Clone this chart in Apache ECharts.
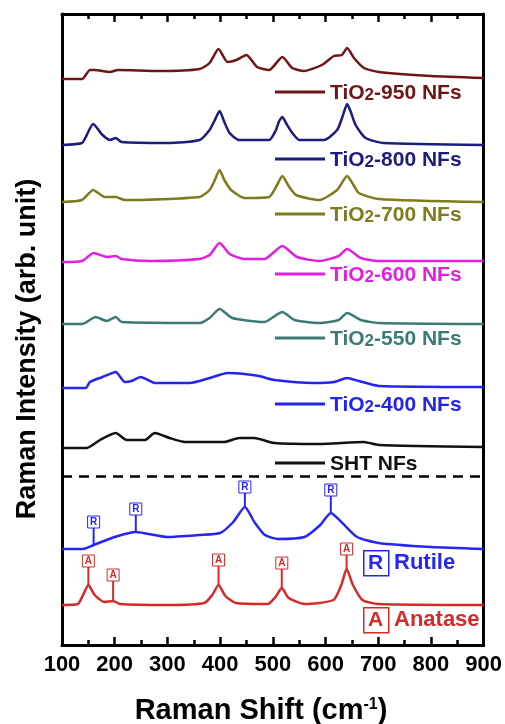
<!DOCTYPE html>
<html>
<head>
<meta charset="utf-8">
<script src="https://cdn.jsdelivr.net/npm/echarts@6/dist/echarts.min.js"></script>
<style>
  html, body { margin: 0; padding: 0; background: #fff; }
  #chart { width: 505px; height: 724px; }
</style>
</head>
<body>
<div id="chart"></div>
<script>
// stacked spectra, [Raman shift, intensity incl. offset] (arb. unit)
const tio2_950 = [[100,566],[138,566],[153,575],[162,575],[191,573],[206,575],[285,574],[361,576],[380,582],[397,596],[414,583],[431,585],[450,590],[470,578],[493,575],[518,588],[537,577],[559,574],[593,580],[616,589],[631,590],[641,597],[654,587],[673,577],[701,573],[800,569],[900,567]]
const tio2_800 = [[100,500],[138,502],[147,510],[159,521],[177,510],[191,505],[202,507],[213,503],[300,502],[361,505],[380,515],[390,525],[399,534],[408,523],[418,512],[436,505],[493,505],[506,515],[512,524],[518,528],[526,521],[537,512],[550,505],[597,505],[622,515],[632,528],[641,541],[648,533],[657,520],[676,507],[710,502],[900,500]]
const tio2_700 = [[100,443],[138,445],[159,455],[181,448],[202,448],[219,445],[361,448],[380,455],[390,465],[399,475],[408,465],[421,455],[446,447],[493,448],[508,460],[518,469],[530,459],[544,450],[588,445],[622,455],[641,469],[652,461],[663,452],[701,446],[900,443]]
const tio2_600 = [[100,383],[138,384],[160,392],[185,388],[202,389],[213,386],[267,384],[361,386],[380,390],[399,402],[418,391],[446,386],[484,386],[518,399],[546,388],[588,384],[625,389],[641,396],[667,387],[701,384],[900,384]]
const tio2_550 = [[100,321],[138,321],[164,328],[185,324],[202,328],[213,323],[361,322],[380,327],[399,336],[423,327],[484,323],[518,333],[541,325],[588,322],[625,325],[641,332],[667,325],[701,322],[900,321]]
const tio2_400 = [[100,257],[145,257],[153,263],[177,268],[202,273],[219,263],[232,264],[249,268],[263,265],[276,262],[342,262],[380,267],[414,272],[446,271],[474,269],[503,265],[578,262],[616,263],[641,267],[663,264],[701,259],[900,258]]
const sht = [[100,197],[147,197],[172,205],[202,212],[223,205],[257,205],[276,212],[304,207],[333,203],[408,203],[436,207],[465,207],[503,202],[588,201],[673,203],[701,200],[900,198]]
const rutile = [[100,96],[140,96],[160,100],[200,108],[240,113],[300,108],[360,110],[400,112],[425,123],[447,138],[465,123],[485,110],[510,106],[560,108],[590,120],[610,132],[630,123],[660,108],[700,102],[800,98],[900,96]]
const anatase = [[100,40],[130,41],[140,50],[150,60],[162,50],[180,43],[197,44],[210,41],[300,40],[370,42],[385,50],[397,60],[410,49],[430,42],[490,41],[505,48],[517,57],[530,47],[560,41],[615,45],[630,60],[640,76],[652,60],[670,45],[700,41],[900,40]]

// reference peaks: [shift, curve value, label value]
const rutilePeaks = [[160,100,123],[240,113,136],[447,138,158],[610,132,155]]
const anatasePeaks = [[150,60,84],[197,44,70],[397,60,85],[517,57,82],[640,76,96]]

const separatorLevel = 169
const xTicks = { min: 100, max: 900, interval: 100 }

const names = ['TiO2-950 NFs', 'TiO2-800 NFs', 'TiO2-700 NFs', 'TiO2-600 NFs', 'TiO2-550 NFs', 'TiO2-400 NFs', 'SHT NFs']
const spectra = [tio2_950, tio2_800, tio2_700, tio2_600, tio2_550, tio2_400, sht]
const colors = ['#6e1616', '#1c1c7c', '#7c7c1c', '#e21ee2', '#3c7a75', '#2424f0', '#111111']
const legendLineY = [91, 158, 213, 273, 337, 403, 462]

const RUTILE_COLOR = '#2626f2'
const ANATASE_COLOR = '#d42a2a'
const FONT = 'Liberation Sans, Arial, sans-serif'

const chart = echarts.init(document.getElementById('chart'))

function peakSeries(data, letter, color) {
  return {
    type: 'custom',
    data: data,
    silent: true,
    z: 5,
    renderItem(params, api) {
      const p = api.coord([api.value(0), api.value(1)])
      const b = api.coord([api.value(0), api.value(2)])
      const w = 12
      const h = 12
      return {
        type: 'group',
        children: [
          { type: 'line', shape: { x1: p[0], y1: p[1], x2: b[0], y2: b[1] + h / 2 }, style: { stroke: color, lineWidth: 2 } },
          { type: 'rect', shape: { x: b[0] - w / 2, y: b[1] - h / 2, width: w, height: h }, style: { fill: '#fff', stroke: color, lineWidth: 1 } },
          { type: 'text', style: { text: letter, x: b[0], y: b[1] + 0.5, align: 'center', verticalAlign: 'middle', font: 'bold 10px ' + FONT, fill: color } }
        ]
      }
    }
  }
}

const series = spectra.map((d, i) => ({
  name: names[i],
  type: 'line',
  data: d,
  smooth: 0.2,
  showSymbol: false,
  color: colors[i],
  lineStyle: { width: 2.5, color: colors[i] }
}))

series.push({
  name: 'Rutile',
  type: 'line',
  data: rutile,
  smooth: 0.2,
  showSymbol: false,
  lineStyle: { width: 2.5, color: RUTILE_COLOR },
  markLine: {
    silent: true,
    symbol: 'none',
    label: { show: false },
    lineStyle: { type: [10, 7], width: 2.5, color: '#000' },
    data: [{ yAxis: separatorLevel }]
  }
})
series.push({
  name: 'Anatase',
  type: 'line',
  data: anatase,
  smooth: 0.2,
  showSymbol: false,
  lineStyle: { width: 2.5, color: ANATASE_COLOR }
})
series.push(peakSeries(rutilePeaks, 'R', RUTILE_COLOR))
series.push(peakSeries(anatasePeaks, 'A', ANATASE_COLOR))

const legends = names.map((n, i) => ({
  data: [n],
  left: 275,
  top: legendLineY[i] - 8,
  padding: 0,
  icon: 'rect',
  itemWidth: 50,
  itemHeight: 3,
  itemGap: 0,
  selectedMode: false,
  formatter: name => name.replace(/^TiO2(.*)$/, '{a|TiO}{s|2}{a|$1}').replace(/^SHT(.*)$/, '{a|SHT$1}'),
  textStyle: {
    color: colors[i],
    padding: [0, 0, 0, 0],
    rich: {
      a: { color: colors[i], fontSize: 21, fontWeight: 'bold', fontFamily: FONT, verticalAlign: 'bottom', lineHeight: 24 },
      s: { color: colors[i], fontSize: 17, fontWeight: 'bold', fontFamily: FONT, verticalAlign: 'bottom', lineHeight: 24 }
    }
  }
}))

function boxLegend(letter, text, color, top) {
  return [
    { type: 'rect', left: 363, top: top, shape: { width: 25, height: 25 }, style: { fill: '#fff', stroke: color, lineWidth: 1.5 } },
    { type: 'text', x: 375.5, y: top + 13, style: { text: letter, fill: color, font: 'bold 21px ' + FONT, align: 'center', verticalAlign: 'middle' } },
    { type: 'text', x: 394, y: top + 13, style: { text: text, fill: color, font: 'bold 22px ' + FONT, verticalAlign: 'middle' } }
  ]
}

const axisCommon = {
  type: 'value',
  min: xTicks.min,
  max: xTicks.max,
  interval: xTicks.interval,
  axisLine: { show: true, onZero: false, lineStyle: { color: '#000', width: 3 } },
  axisTick: { show: true, inside: true, length: 8, lineStyle: { color: '#000', width: 2.5 } },
  minorTick: { show: true, splitNumber: 2, length: 5, lineStyle: { color: '#000', width: 2.5 } },
  splitLine: { show: false }
}

const titles = [
  {
    type: 'text', x: 28, y: 349, rotation: Math.PI / 2,
    style: { text: 'Raman Intensity (arb. unit)', fill: '#000', font: 'bold 27px ' + FONT, align: 'center', verticalAlign: 'middle' }
  },
  {
    type: 'text', x: 261, y: 711,
    style: {
      text: '{t|Raman Shift (cm}{u|-1}{t|)}', align: 'center', verticalAlign: 'middle',
      rich: {
        t: { fill: '#000', fontSize: 29, fontWeight: 'bold', fontFamily: FONT },
        u: { fill: '#000', fontSize: 16, fontWeight: 'bold', fontFamily: FONT, verticalAlign: 'top' }
      }
    }
  }
]

chart.setOption({
  animation: false,
  backgroundColor: '#fff',
  grid: { left: 62, right: 20, top: 14, bottom: 79 },
  legend: legends,
  xAxis: [
    Object.assign({}, axisCommon, {
      position: 'bottom',
      axisLabel: { color: '#000', fontSize: 22, fontWeight: 'bold', fontFamily: FONT, margin: 9 }
    }),
    Object.assign({}, axisCommon, {
      position: 'top',
      axisLabel: { show: false }
    })
  ],
  yAxis: [
    {
      type: 'value',
      min: 0,
      max: 631,
      position: 'left',
      axisLine: { show: true, onZero: false, lineStyle: { color: '#000', width: 3 } },
      axisTick: { show: false },
      axisLabel: { show: false },
      splitLine: { show: false }
    },
    {
      type: 'value',
      min: 0,
      max: 631,
      position: 'right',
      axisLine: { show: true, onZero: false, lineStyle: { color: '#000', width: 3 } },
      axisTick: { show: false },
      axisLabel: { show: false },
      splitLine: { show: false }
    }
  ],
  graphic: titles.concat(boxLegend('R', 'Rutile', RUTILE_COLOR, 550), boxLegend('A', 'Anatase', ANATASE_COLOR, 607)),
  series: series
})
</script>
</body>
</html>
